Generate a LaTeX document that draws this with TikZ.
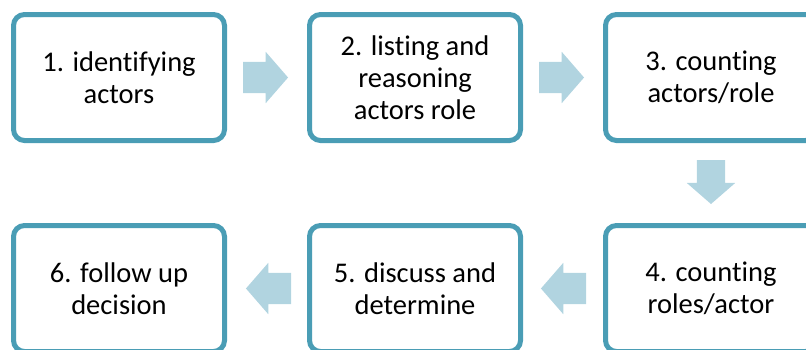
\documentclass[tikz,border=0pt]{standalone}
\usepackage{fontspec}
\setmainfont[Ligatures=NoCommon]{Carlito}
\usetikzlibrary{shapes.arrows,calc}
\definecolor{stepline}{HTML}{4A9DB5}
\definecolor{flowfill}{HTML}{B1D4E0}
\begin{document}
\begin{tikzpicture}[x=1pt,y=-1pt,
  stepbox/.style={rectangle, draw=stepline, line width=5pt, rounded corners=11pt, fill=white,
    minimum width=211pt, minimum height=126pt, align=center,
    font=\fontsize{28.5}{32}\selectfont},
  flow/.style={single arrow, fill=flowfill, draw=none, inner sep=15.5pt, outer sep=0pt,
    single arrow head extend=10pt, single arrow tip angle=98, minimum height=45pt, anchor=tail}]
\useasboundingbox (0,0) rectangle (806,349);
\node[stepbox] (s1) at (119,77.5){1. identifying\\actors};
\node[stepbox] (s2) at (415,77.5){2. listing and\\reasoning\\actors role};
\node[stepbox] (s3) at (711,77.5){3. counting\\actors/role};
\node[stepbox] (s4) at (711,288.5){4. counting\\roles/actor};
\node[stepbox] (s5) at (415,288.5){5. discuss and\\determine};
\node[stepbox] (s6) at (119,288.5){6. follow up\\decision};
\node[flow] (a12) at ($(s1.east)+(16,0)$){};
\node[flow] (a23) at ($(s2.east)+(16,0)$){};
\node[flow, inner sep=14pt, minimum height=44pt, shape border rotate=270] (a34) at ($(s3.south)+(0,17)$){};
\node[flow, shape border rotate=180] (a45) at ($(s4.west)+(-17,0)$){};
\node[flow, shape border rotate=180] (a56) at ($(s5.west)+(-16,0)$){};
\end{tikzpicture}
\end{document}
